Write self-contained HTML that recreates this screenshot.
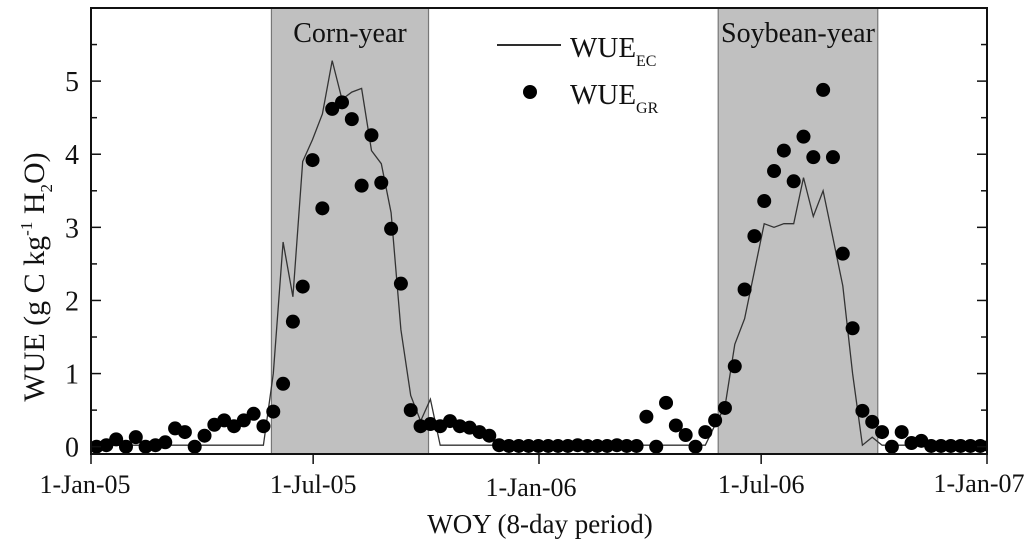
<!DOCTYPE html>
<html><head><meta charset="utf-8"><style>
html,body{margin:0;padding:0;background:#fff;}
svg{display:block;font-family:"Liberation Serif",serif;}
</style></head><body>
<svg id="chart" width="1024" height="539" viewBox="0 0 1024 539" xmlns="http://www.w3.org/2000/svg"></svg>
<script>
const gr = [0.0,0.02,0.1,0.0,0.13,0.0,0.02,0.06,0.25,0.2,0.0,0.15,0.3,0.36,0.28,0.36,0.45,0.28,0.48,0.86,1.71,2.19,3.92,3.26,4.62,4.71,4.48,3.57,4.26,3.61,2.98,2.23,0.5,0.28,0.31,0.28,0.35,0.28,0.26,0.2,0.15,0.02,0.01,0.01,0.01,0.01,0.01,0.01,0.01,0.02,0.01,0.01,0.01,0.02,0.01,0.01,0.41,0.0,0.6,0.29,0.16,0.0,0.2,0.36,0.53,1.1,2.15,2.88,3.36,3.77,4.05,3.63,4.24,3.96,4.88,3.96,2.64,1.62,0.49,0.34,0.2,0.0,0.2,0.05,0.08,0.01,0.01,0.01,0.01,0.01,0.01,0.01];
const ec = [0.02,0.02,0.02,0.02,0.02,0.02,0.02,0.02,0.02,0.02,0.02,0.02,0.02,0.02,0.02,0.02,0.02,0.02,1.0,2.8,2.05,3.9,4.2,4.55,5.28,4.75,4.85,4.9,4.05,3.87,3.2,1.6,0.7,0.35,0.65,0.02,0.02,0.02,0.02,0.02,0.02,0.02,0.02,0.02,0.02,0.02,0.02,0.02,0.02,0.02,0.02,0.02,0.02,0.02,0.02,0.02,0.02,0.02,0.02,0.02,0.02,0.02,0.02,0.3,0.55,1.4,1.75,2.4,3.05,3.0,3.05,3.05,3.68,3.15,3.5,2.85,2.2,1.0,0.02,0.13,0.02,0.02,0.02,0.02,0.02,0.02,0.02,0.02,0.02,0.02,0.02,0.02];
const xTickLabels = ["1-Jan-05","1-Jul-05","1-Jan-06","1-Jul-06","1-Jan-07"];
const xTickDays = [0,181,365,546,730];
const yTickLabels = ["0","1","2","3","4","5"];
const shadeDays = [[147,275],[511,641]];
const shadeNames = ["Corn-year","Soybean-year"];

const NS="http://www.w3.org/2000/svg";
const svg=document.getElementById('chart');
const L=91,R=987,T=8,B=454;
const xd=d=>L+d*(R-L)/730;
const xi=i=>xd(4.5+8*i);
const y=v=>B-(v+0.1)*(B-T)/6.1;
function mk(tag,attrs,parent){const e=document.createElementNS(NS,tag);for(const k in attrs)e.setAttribute(k,attrs[k]);(parent||svg).appendChild(e);return e;}

const clip=mk('clipPath',{id:'pc'});mk('rect',{x:L,y:T,width:R-L,height:B-T},clip);

shadeDays.forEach((s,k)=>{
  const r=mk('rect',{x:xd(s[0]),y:T,width:xd(s[1])-xd(s[0]),height:B-T,fill:'#c0c0c0',stroke:'#777','stroke-width':1.2});
  
  
  const t=mk('text',{x:(xd(s[0])+xd(s[1]))/2,y:42,'text-anchor':'middle','font-size':28,fill:'#111'});
  t.textContent=shadeNames[k];
  
  
});

const g=mk('g',{'clip-path':'url(#pc)'});


const line=mk('polyline',{points:ec.map((v,i)=>xi(i).toFixed(1)+','+y(v).toFixed(1)).join(' '),fill:'none',stroke:'#333','stroke-width':1.3},g);


gr.forEach((v,i)=>{
  const c=mk('circle',{cx:xi(i),cy:y(v),r:7,fill:'#000'},g);
  
  
});

const frame=mk('rect',{x:L,y:T,width:R-L,height:B-T,fill:'none',stroke:'#111','stroke-width':2});



for(let v=0;v<=5.5;v+=0.5){
  const len=(v%1===0)?10:6;
  mk('line',{x1:L,x2:L+len,y1:y(v),y2:y(v),stroke:'#111','stroke-width':1.5});
  mk('line',{x1:R,x2:R-len,y1:y(v),y2:y(v),stroke:'#111','stroke-width':1.5});
}
yTickLabels.forEach((s,k)=>{
  const t=mk('text',{x:79,y:y(+s)+10,'text-anchor':'end','font-size':28,fill:'#111'});
  t.textContent=s;
  
  
});
const labBase=[493,493,496,493,492];
const labOff=[-6,0,-8,0,-8];
xTickLabels.forEach((s,k)=>{
  const x=xd(xTickDays[k]);
  mk('line',{x1:x,x2:x,y1:B,y2:B+10,stroke:'#111','stroke-width':1.5});
  const t=mk('text',{x:x+labOff[k],y:labBase[k],'text-anchor':'middle','font-size':26,fill:'#111'});
  t.textContent=s;
  
  
});

const xt=mk('text',{x:540,y:533,'text-anchor':'middle','font-size':27,fill:'#111'});
xt.textContent='WOY (8-day period)';


const yt=mk('text',{transform:'translate(44,277) rotate(-90)','text-anchor':'middle','font-size':30,fill:'#111'});
yt.innerHTML='WUE (g C kg<tspan dy="-12" font-size="17">-1</tspan><tspan dy="12"> H</tspan><tspan dy="8" font-size="17">2</tspan><tspan dy="-8">O)</tspan>';



const lg=mk('g',{});


mk('line',{x1:497,x2:561,y1:45,y2:45,stroke:'#111','stroke-width':1.8},lg);
const l1=mk('text',{x:570,y:57,'font-size':29,fill:'#111'},lg);
l1.innerHTML='WUE<tspan dy="9" font-size="16">EC</tspan>';


mk('circle',{cx:530,cy:92,r:7,fill:'#000'},lg);
const l2=mk('text',{x:570,y:104,'font-size':29,fill:'#111'},lg);
l2.innerHTML='WUE<tspan dy="9" font-size="16">GR</tspan>';


</script>
</body></html>
